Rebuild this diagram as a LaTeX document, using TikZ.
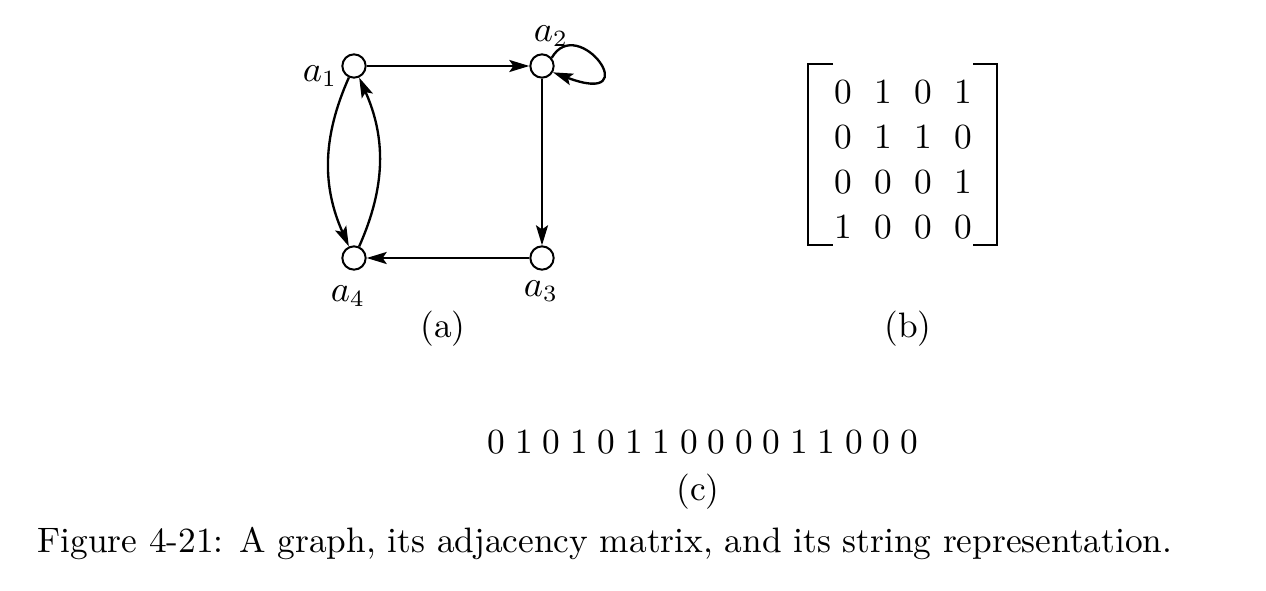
\documentclass[tikz,border=0pt]{standalone}
\usetikzlibrary{arrows.meta}
\begin{document}
\begin{tikzpicture}[x=0.3pt,y=-0.3pt,
  font=\fontsize{10.6pt}{13pt}\selectfont,
  vtx/.style={circle,draw,line width=0.6pt,inner sep=0pt,minimum size=7pt},
  edge/.style={line width=0.7pt,-{Stealth[length=6pt,width=3.6pt,inset=1.2pt]}},
  lbl/.style={inner sep=0pt},
  txt/.style={inner sep=0pt}]
\useasboundingbox (0,0) rectangle (1266,590);
% graph
\node[vtx] (a1) at (354,66) {};
\node[vtx] (a2) at (542,66) {};
\node[vtx] (a3) at (542,258) {};
\node[vtx] (a4) at (354,258) {};
\node[lbl] (l1) at (320,76) {$a_1$};
\node[lbl] (l2) at (551,36) {$a_2$};
\node[lbl] (l3) at (541,291) {$a_3$};
\node[lbl] (l4) at (348,296) {$a_4$};
\draw[edge] (a1) -- (a2);
\draw[edge] (a2) -- (a3);
\draw[edge] (a3) -- (a4);
\draw[edge] (a1) to[bend right=24] (a4);
\draw[edge] (a4) to[bend right=24] (a1);
\draw[edge] (a2.40) .. controls (578,12) and (648,108) .. (a2.-30);
\node[txt,anchor=base] (ca) at (443,337) {(a)};
% matrix
\draw[line width=0.75pt] (833,64) -- (808,64) -- (808,245) -- (833,245);
\draw[line width=0.75pt] (973,64) -- (997,64) -- (997,245) -- (973,245);
\foreach \r/\y/\vals in {1/92/{0,1,0,1},2/137/{0,1,1,0},3/182/{0,0,0,1},4/227/{1,0,0,0}}{
  \foreach \v [count=\c] in \vals {
    \node[txt] (m\r\c) at ({803+40*\c},\y) {\v};
  }
}
\node[txt,anchor=base] (cb) at (908,337) {(b)};
% string
\node[txt,anchor=base] (str) at (703,453) {\spaceskip=2.95pt plus 0pt minus 0pt 0 1 0 1 0 1 1 0 0 0 0 1 1 0 0 0};
\node[txt,anchor=base] (cc) at (698,500) {(c)};
% caption
\node[txt,anchor=base west] (cap) at (37,552) {Figure 4-21: A graph, its adjacency matrix, and its string representation.};
\end{tikzpicture}
\end{document}
